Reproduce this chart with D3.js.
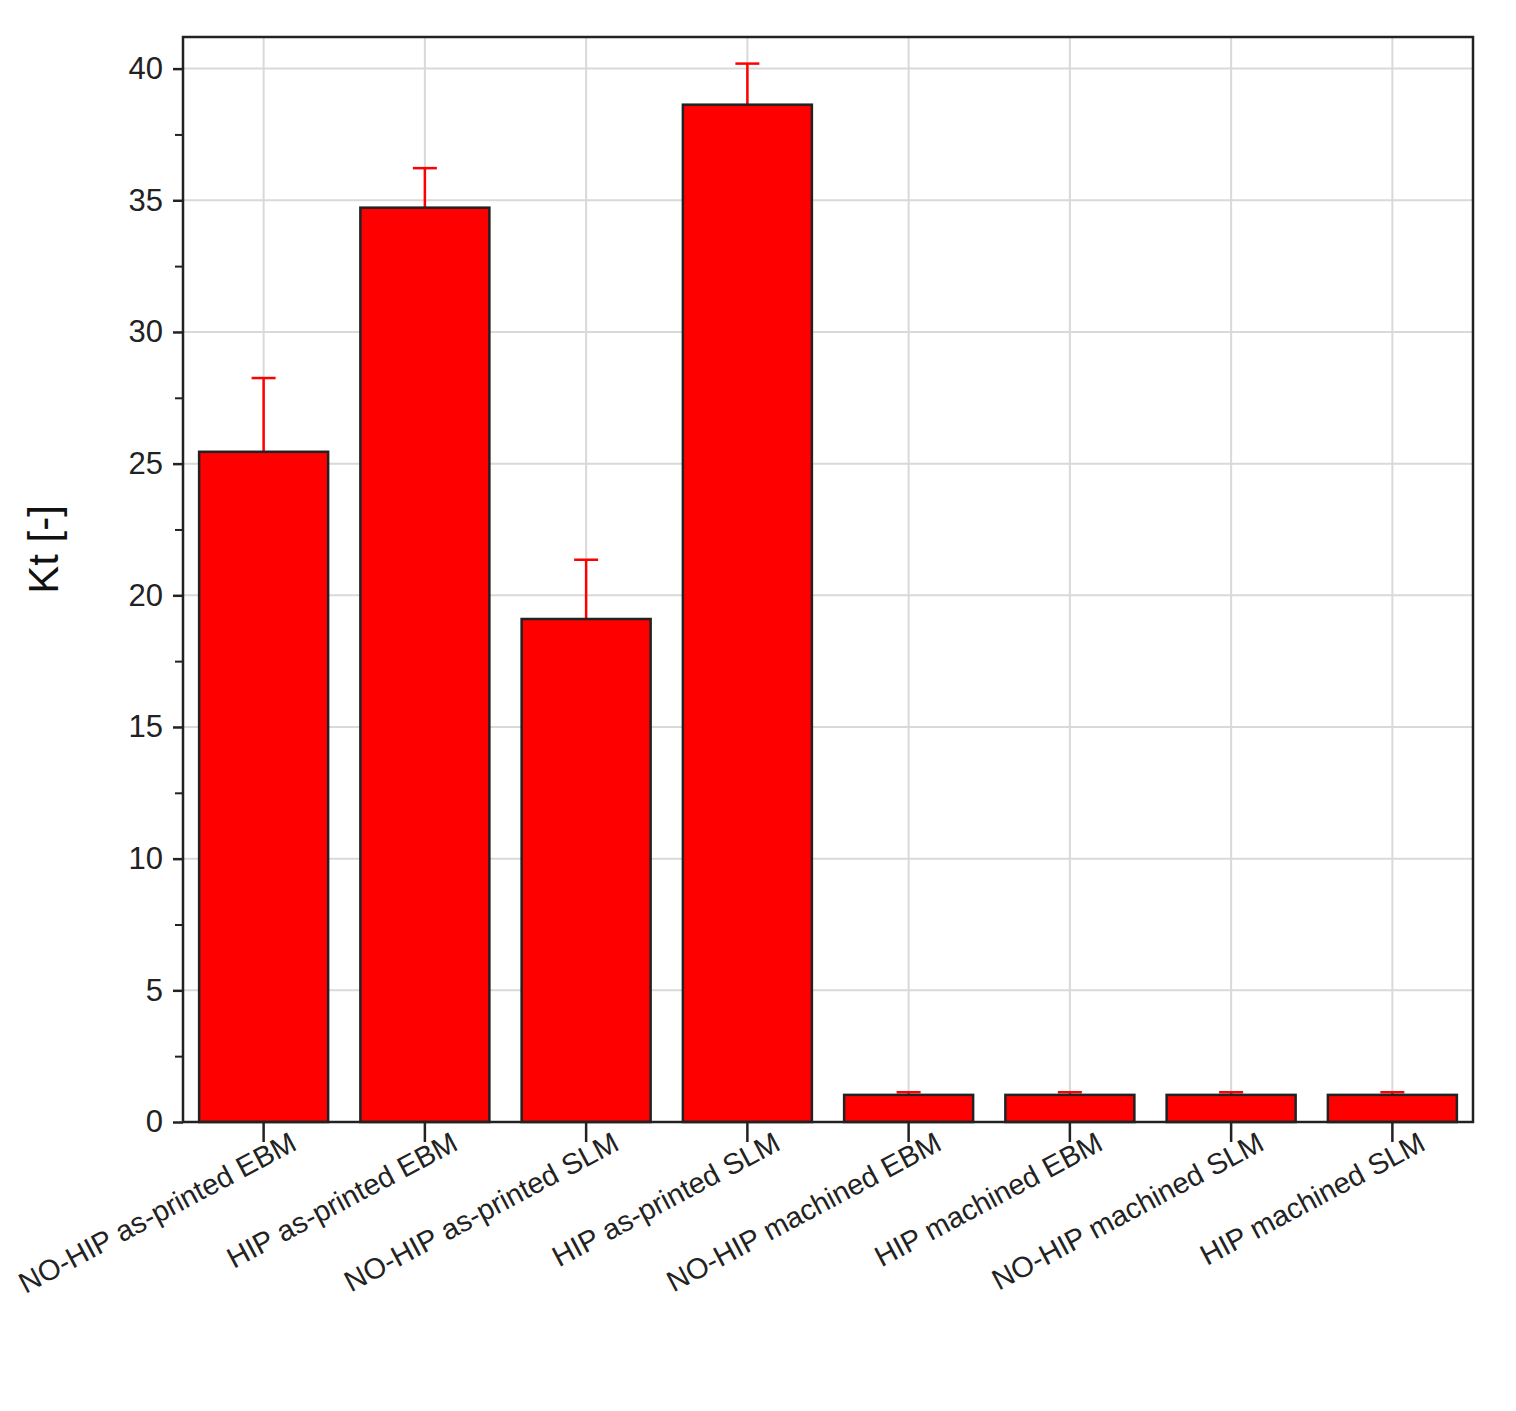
<!DOCTYPE html>
<html>
<head>
<meta charset="utf-8">
<script src="https://cdn.jsdelivr.net/npm/d3@7"></script>
<style>
  body { margin: 0; background: #fff; }
  text { font-family: "Liberation Sans", Arial, sans-serif; }
</style>
</head>
<body>
<div id="chart"></div>
<script>
// data
var categories = ["NO-HIP as-printed EBM", "HIP as-printed EBM", "NO-HIP as-printed SLM",
  "HIP as-printed SLM", "NO-HIP machined EBM", "HIP machined EBM",
  "NO-HIP machined SLM", "HIP machined SLM"];
var kt = [25.45, 34.72, 19.1, 38.63, 1.03, 1.03, 1.03, 1.03];
var ktErr = [2.8, 1.5, 2.25, 1.56, 0.1, 0.1, 0.1, 0.1];
var yTicks = [0, 5, 10, 15, 20, 25, 30, 35, 40];

var margin = {top: 37, right: 43, bottom: 289, left: 183},
    width = 1516 - margin.left - margin.right,
    height = 1411 - margin.top - margin.bottom;

var svg = d3.select("#chart").append("svg")
    .attr("width", 1516).attr("height", 1411)
  .append("g")
    .attr("transform", "translate(" + margin.left + "," + margin.top + ")");

var x = d3.scaleBand().domain(categories).range([0, width]).paddingInner(0.2).paddingOuter(0.1);
var y = d3.scaleLinear().domain([0, 41.2]).range([height, 0]);

// grid
svg.selectAll(".hgrid").data(yTicks.slice(1)).enter().append("line")
    .attr("x1", 0).attr("x2", width)
    .attr("y1", function(d) { return y(d); }).attr("y2", function(d) { return y(d); })
    .attr("stroke", "#d9d9d9").attr("stroke-width", 2);
svg.selectAll(".vgrid").data(categories).enter().append("line")
    .attr("x1", function(d) { return x(d) + x.bandwidth() / 2; })
    .attr("x2", function(d) { return x(d) + x.bandwidth() / 2; })
    .attr("y1", 0).attr("y2", height)
    .attr("stroke", "#d9d9d9").attr("stroke-width", 2);

// error bars (upper only)
var cx = function(i) { return x(categories[i]) + x.bandwidth() / 2; };
kt.forEach(function(v, i) {
  svg.append("line").attr("x1", cx(i)).attr("x2", cx(i))
      .attr("y1", y(v)).attr("y2", y(v + ktErr[i]))
      .attr("stroke", "#ff0000").attr("stroke-width", 2.5);
  svg.append("line").attr("x1", cx(i) - 12).attr("x2", cx(i) + 12)
      .attr("y1", y(v + ktErr[i])).attr("y2", y(v + ktErr[i]))
      .attr("stroke", "#ff0000").attr("stroke-width", 2.5);
});

// bars
svg.selectAll(".bar").data(kt).enter().append("rect")
    .attr("x", function(d, i) { return x(categories[i]); })
    .attr("width", x.bandwidth())
    .attr("y", function(d) { return y(d); })
    .attr("height", function(d) { return height - y(d); })
    .attr("fill", "#ff0000").attr("stroke", "#222").attr("stroke-width", 2.5);

// frame
svg.append("rect").attr("width", width).attr("height", height)
    .attr("fill", "none").attr("stroke", "#222").attr("stroke-width", 2.5);

// y axis
var yAxis = svg.append("g").call(d3.axisLeft(y).tickValues(yTicks).tickSize(10).tickPadding(10));
yAxis.select(".domain").remove();
yAxis.selectAll(".tick line").attr("stroke", "#222").attr("stroke-width", 2.5);
yAxis.selectAll("text").style("font-size", "31px").attr("fill", "#222");
svg.append("g").call(d3.axisLeft(y).tickValues(d3.range(2.5, 41, 5)).tickSize(8).tickFormat(""))
    .call(function(g) { g.select(".domain").remove(); })
    .selectAll(".tick line").attr("stroke", "#222").attr("stroke-width", 2);

// x axis
var xAxis = svg.append("g").attr("transform", "translate(0," + height + ")")
    .call(d3.axisBottom(x).tickSize(20).tickPadding(8));
xAxis.select(".domain").remove();
xAxis.selectAll(".tick line").attr("stroke", "#222").attr("stroke-width", 2.5);
xAxis.selectAll("text")
    .style("font-size", "29px").attr("fill", "#222")
    .style("text-anchor", "end")
    .attr("x", 18).attr("y", 40).attr("dy", 0)
    .attr("transform", "rotate(-28)");

svg.append("text")
    .attr("transform", "translate(" + (-125) + "," + (height / 2 - 30) + ") rotate(-90)")
    .style("text-anchor", "middle").style("font-size", "42px").attr("fill", "#111")
    .text("Kt [-]");
</script>
</body>
</html>
